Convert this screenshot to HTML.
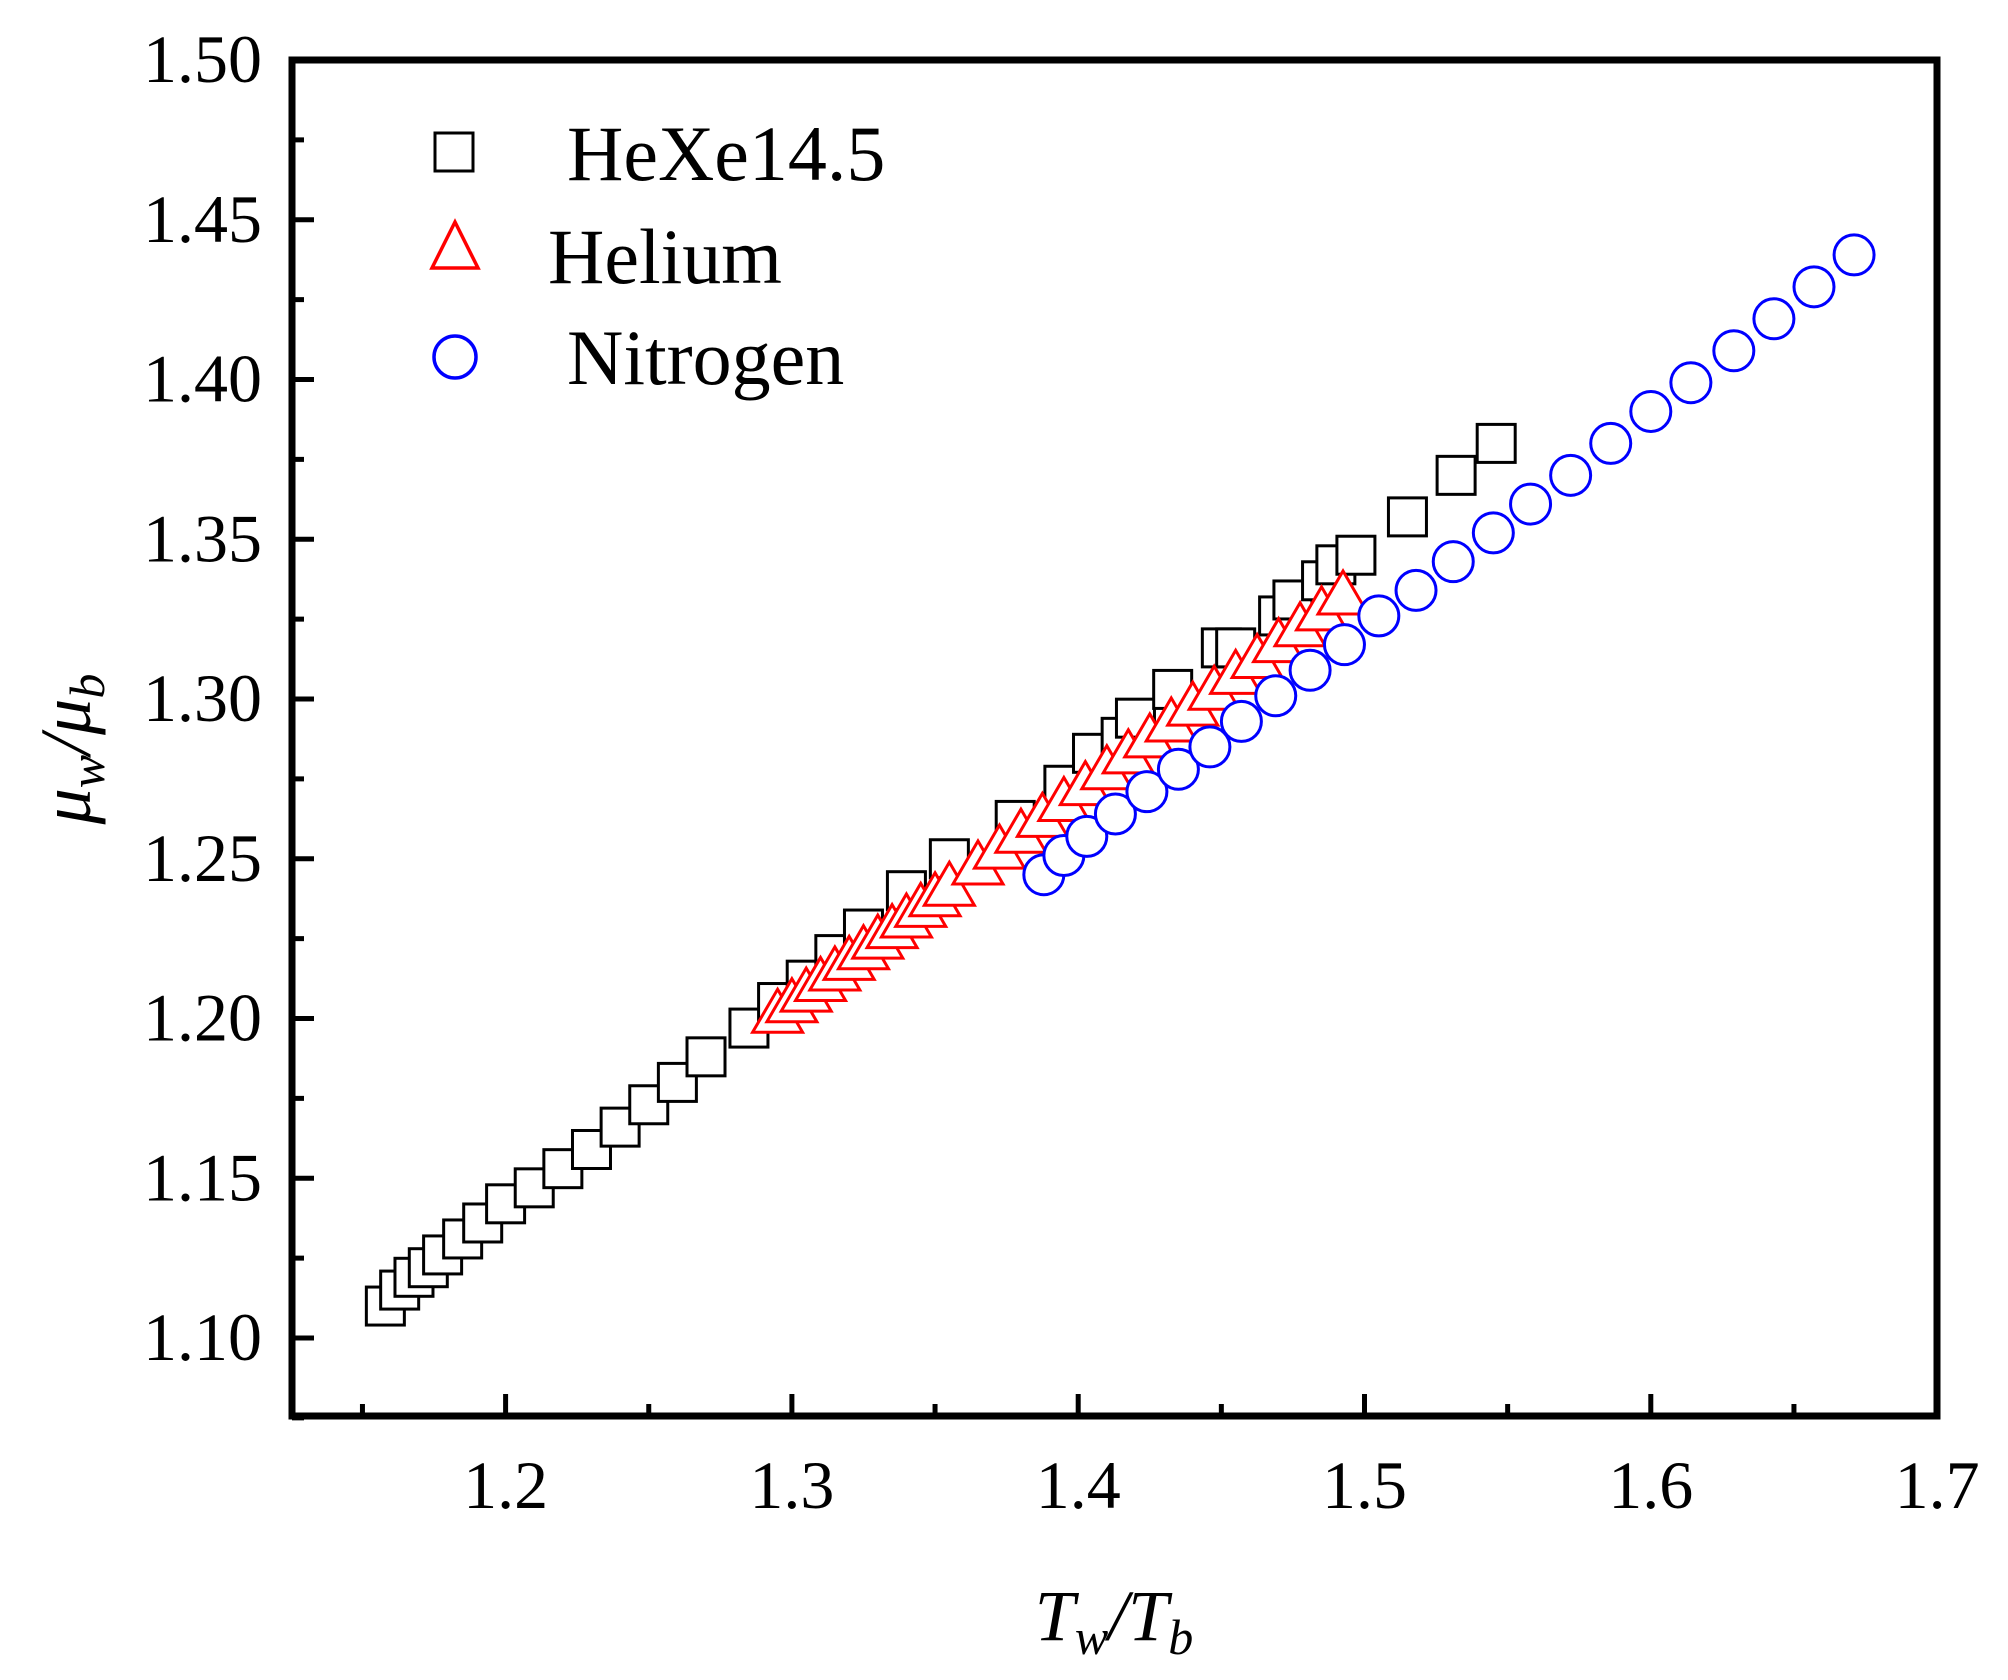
<!DOCTYPE html>
<html><head><meta charset="utf-8"><style>
html,body{margin:0;padding:0;background:#fff;}
svg{display:block;}
</style></head><body>
<svg id="s" width="2008" height="1680" viewBox="0 0 2008 1680" xmlns="http://www.w3.org/2000/svg" font-family="Liberation Serif, serif">
<rect width="2008" height="1680" fill="#fff"/>
<g id="ticks" stroke="#000" stroke-width="5"></g>
<g id="marks" fill="none" stroke-width="3"></g>
<rect x="292" y="60" width="1645" height="1356" fill="none" stroke="#000" stroke-width="7"/>
<g font-size="68" fill="#000" text-anchor="end" id="ylab"></g>
<g font-size="68" fill="#000" text-anchor="middle" id="xlab"></g>
<g font-size="78" fill="#000">
<rect x="435" y="133" width="38" height="38" fill="none" stroke="#000" stroke-width="3"/>
<text x="567" y="180">HeXe14.5</text>
<polygon points="455,222 478,268 432,268" fill="none" stroke="#f00" stroke-width="3.5"/>
<text x="548" y="283">Helium</text>
<circle cx="455" cy="357" r="21" fill="none" stroke="#00f" stroke-width="3.5"/>
<text x="567" y="384">Nitrogen</text>
</g>
<text x="1114" y="1640" font-size="72" font-style="italic" text-anchor="middle">T<tspan font-size="50" dy="14">w</tspan><tspan dy="-14">/T</tspan><tspan font-size="50" dy="14">b</tspan></text>
<text transform="translate(90,749) rotate(-90)" font-size="72" font-style="italic" text-anchor="middle">μ<tspan font-size="50" dy="14">w</tspan><tspan dy="-14">/μ</tspan><tspan font-size="50" dy="14">b</tspan></text>
</svg>
<script>
var NS="http://www.w3.org/2000/svg";
function X(v){return 505.6+(v-1.2)*2863;}
function Y(v){return 1338-(v-1.1)*3195;}
function el(p,t,a,txt){var e=document.createElementNS(NS,t);for(var k in a)e.setAttribute(k,a[k]);if(txt)e.textContent=txt;document.getElementById(p).appendChild(e);return e;}
for(var i=0;i<=16;i++){var v=1.10+i*0.025;if(v>1.5001)break;var y=Y(v);var maj=(i%2==0);
el("ticks","line",{x1:292,y1:y,x2:292+(maj?22:12),y2:y});
if(maj)el("ylab","text",{x:262,y:y+22},v.toFixed(2));}
el("ticks","line",{x1:292,y1:Y(1.075),x2:304,y2:Y(1.075)});
for(var i=0;i<12;i++){var v=1.15+i*0.05;var x=X(v);var maj=(i%2==1);
el("ticks","line",{x1:x,y1:1416,x2:x,y2:1416-(maj?22:12)});
if(maj)el("xlab","text",{x:x,y:1508},v.toFixed(1));}
var sq=[[1.158,1.110],[1.163,1.115],[1.168,1.119],[1.173,1.122],[1.178,1.126],[1.185,1.131],[1.192,1.136],[1.200,1.142],[1.210,1.147],[1.220,1.153],[1.230,1.159],[1.240,1.166],[1.250,1.173],[1.260,1.180],[1.270,1.188],[1.285,1.197],[1.295,1.205],[1.305,1.212],[1.315,1.220],[1.325,1.228],[1.340,1.240],[1.355,1.250],[1.378,1.262],[1.395,1.273],[1.405,1.283],[1.415,1.288],[1.420,1.294],[1.433,1.303],[1.450,1.316],[1.455,1.316],[1.470,1.326],[1.475,1.331],[1.485,1.337],[1.490,1.342],[1.497,1.345],[1.515,1.357],[1.532,1.370],[1.546,1.380]];
sq.forEach(function(p){var x=X(p[0]),y=Y(p[1]);el("marks","rect",{x:x-19,y:y-19,width:38,height:38,stroke:"#000",fill:"#fff"});});
var tr=[];for(var x=1.295;x<1.357;x+=0.005)tr.push(x);for(var x=1.365;x<1.499;x+=0.0075)tr.push(x);
tr.forEach(function(v){var y=Y(1.201+0.663*(v-1.295)),x=X(v);el("marks","polygon",{points:(x)+","+(y-26)+" "+(x+25)+","+(y+17)+" "+(x-25)+","+(y+17),stroke:"#f00",fill:"#fff"});});
var ci=[[1.388,1.245],[1.395,1.251],[1.403,1.257],[1.413,1.264],[1.424,1.271],[1.435,1.278],[1.446,1.285],[1.457,1.293],[1.469,1.301],[1.481,1.309],[1.493,1.317],[1.505,1.326],[1.518,1.334],[1.531,1.343],[1.545,1.352],[1.558,1.361],[1.572,1.370],[1.586,1.380],[1.600,1.390],[1.614,1.399],[1.629,1.409],[1.643,1.419],[1.657,1.429],[1.671,1.439]];
ci.forEach(function(p){el("marks","circle",{cx:X(p[0]),cy:Y(p[1]),r:20,stroke:"#00f",fill:"#fff"});});
</script>
</body></html>
